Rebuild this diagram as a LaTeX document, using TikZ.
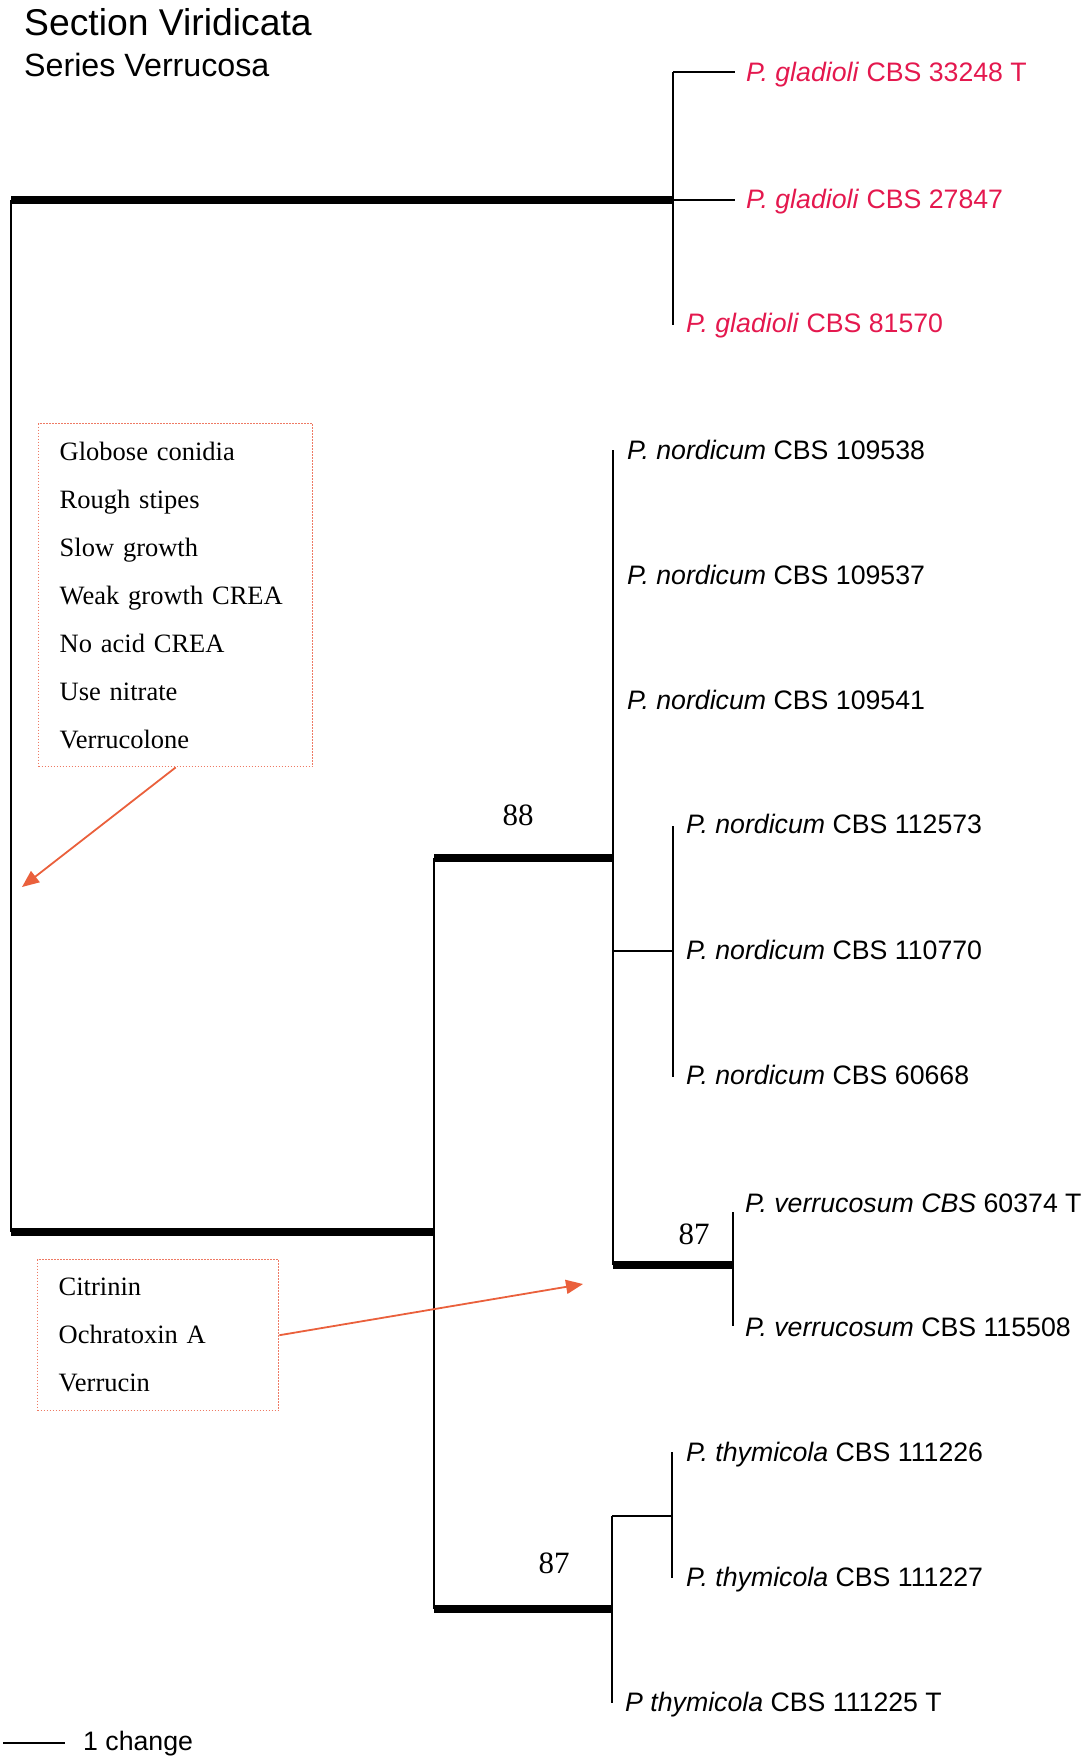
\documentclass[tikz,border=0pt]{standalone}
\usepackage{fontspec}
\setmainfont{Liberation Serif}
\newfontfamily\labfont{Liberation Sans}
\usepackage{xcolor}
\usepackage{tikz}
\usetikzlibrary{arrows.meta,positioning}
\definecolor{gladred}{RGB}{228,24,78}
\definecolor{notered}{RGB}{234,96,60}
\definecolor{boxred}{RGB}{238,122,100}

\begin{document}
\begin{tikzpicture}[
  x=1pt, y=-1pt,
  branch/.style={line width=2.2pt},
  heavy/.style={line width=8pt},
  taxon/.style={anchor=base west, inner sep=0pt, font=\labfont\fontsize{26.7}{30}\selectfont},
  glad/.style={taxon, text=gladred},
  boot/.style={inner sep=0pt, font=\fontsize{31}{36}\selectfont},
  traitbox/.style={draw=boxred, line width=1.4pt, dash pattern=on 1.4pt off 1.6pt, align=left, inner xsep=21pt, inner ysep=0pt, anchor=north west, font=\fontsize{26.5}{48}\selectfont},
  note/.style={draw=notered, line width=1.8pt, -{Triangle[length=17pt,width=14pt]}}
]
\useasboundingbox (0,0) rectangle (1089,1758);

\node[anchor=base west, inner sep=0pt, font=\labfont\fontsize{37.3}{40}\selectfont] (section) at (24,36) {Section Viridicata};
\node[anchor=base west, inner sep=0pt, font=\labfont\fontsize{32.2}{36}\selectfont] (series) at (24,77) {Series Verrucosa};

\coordinate (rtop) at (11,200);
\coordinate (rbot) at (11,1232);
\coordinate (gtop) at (673,72);
\coordinate (gmid) at (673,200);
\coordinate (gbot) at (673,325);
\coordinate (gtopend) at (735,72);
\coordinate (gmidend) at (735,200);
\coordinate (ntop) at (613,450);
\coordinate (n88) at (613,858);
\coordinate (nsub) at (613,951);
\coordinate (nbot) at (613,1265);
\coordinate (stop) at (673,826);
\coordinate (smid) at (673,951);
\coordinate (sbot) at (673,1077);
\coordinate (vmid) at (733,1265);
\coordinate (vtop) at (733,1212);
\coordinate (vbot) at (733,1326);
\coordinate (c88) at (434,858);
\coordinate (cmid) at (434,1232);
\coordinate (cbot) at (434,1609);
\coordinate (tmid) at (612,1609);
\coordinate (ttop) at (612,1516);
\coordinate (tbot) at (612,1703);
\coordinate (ptop) at (672,1452);
\coordinate (pmid) at (672,1516);
\coordinate (pbot) at (672,1578);
\coordinate (barl) at (3,1743);
\coordinate (barr) at (65,1743);
\coordinate (tipl) at (22,887);
\coordinate (tipr) at (583,1284);

\draw[heavy] (rtop) -- (gmid);
\draw[heavy] (rbot) -- (cmid);
\draw[heavy] (c88) -- (n88);
\draw[heavy] (nbot) -- (vmid);
\draw[heavy] (cbot) -- (tmid);
\draw[branch] (rtop) -- (rbot);
\draw[branch] (gtop) -- (gbot);
\draw[branch] (gtop) -- (gtopend);
\draw[branch] (gmid) -- (gmidend);
\draw[branch] (ntop) -- (nbot);
\draw[branch] (nsub) -- (smid);
\draw[branch] (stop) -- (sbot);
\draw[branch] (vtop) -- (vbot);
\draw[branch] (c88) -- (cbot);
\draw[branch] (ttop) -- (tbot);
\draw[branch] (ttop) -- (pmid);
\draw[branch] (ptop) -- (pbot);
\draw[branch] (barl) -- (barr);

\node[glad] (glad1) at (746,82) {\textit{P. gladioli} CBS 33248 T};
\node[glad] (glad2) at (746,208) {\textit{P. gladioli} CBS 27847};
\node[glad] (glad3) at (686,332) {\textit{P. gladioli} CBS 81570};
\node[taxon] (nord1) at (627,459) {\textit{P. nordicum} CBS 109538};
\node[taxon] (nord2) at (627,584) {\textit{P. nordicum} CBS 109537};
\node[taxon] (nord3) at (627,709) {\textit{P. nordicum} CBS 109541};
\node[taxon] (nord4) at (686,833) {\textit{P. nordicum} CBS 112573};
\node[taxon] (nord5) at (686,959) {\textit{P. nordicum} CBS 110770};
\node[taxon] (nord6) at (686,1084) {\textit{P. nordicum} CBS 60668};
\node[taxon] (verr1) at (745,1212) {\textit{P. verrucosum CBS} 60374 T};
\node[taxon] (verr2) at (745,1336) {\textit{P. verrucosum} CBS 115508};
\node[taxon] (thym1) at (686,1461) {\textit{P. thymicola} CBS 111226};
\node[taxon] (thym2) at (686,1586) {\textit{P. thymicola} CBS 111227};
\node[taxon] (thym3) at (625,1711) {\textit{P thymicola} CBS 111225 T};

\node[boot] (bs88) at (518,815) {88};
\node[boot] (bsverr) at (694,1234) {87};
\node[boot] (bsthym) at (554,1563) {87};

\node[taxon] (change) at (83,1750) {1 change};

\node[traitbox, text width=232pt, minimum height=343pt] (traits) at (38,423)
  {Globose conidia\\Rough stipes\\Slow growth\\Weak growth CREA\\No acid CREA\\Use nitrate\\Verrucolone};
\node[traitbox, text width=199pt, minimum height=151pt] (toxins) at (37,1259)
  {Citrinin\\Ochratoxin A\\Verrucin};

\draw[note] (traits.south) -- (tipl);
\draw[note] (toxins.east) -- (tipr);
\end{tikzpicture}
\end{document}
